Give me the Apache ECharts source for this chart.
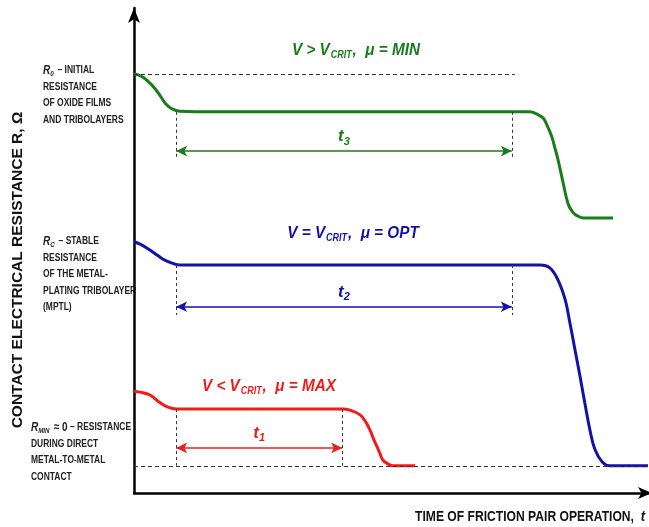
<!DOCTYPE html>
<html><head><meta charset="utf-8">
<script src="https://cdn.jsdelivr.net/npm/echarts@6/dist/echarts.min.js"></script>
<style>html,body{margin:0;padding:0;background:#fff}#c{width:649px;height:527px}</style>
</head><body><div id="c"></div>
<script>
// Time of operation (arbitrary units) and contact resistance (arbitrary units)
const greenT = [0,0.8,1.9,3.1,4.3,5.1,6.2,7.4,8.9,12,40,77.0,78.4,79.6,80.5,81.3,81.9,82.5,83.5,84.4,85.2,86.0,87.4,93.2];
const greenR = [86.4,86.2,85.6,84.5,83.1,81.9,80.2,79.2,78.7,78.6,78.6,78.6,78.1,77.3,75.5,73.4,71.1,68.7,63.9,59.8,58.1,57.3,56.7,56.7];
const blueT = [0,1.2,3.1,4.7,6.0,7.4,8.9,12,45,79.0,80.9,82.5,83.9,84.8,85.8,86.8,87.7,88.7,89.7,91.1,92.6,100];
const blueR = [51.8,51.3,50.1,48.9,48.0,47.4,47.0,47.0,47.0,47.0,46.4,43.9,39.8,35.1,29.5,23.9,18.6,13.0,8.9,6.4,5.6,5.6];
const redT = [0,1.2,3.1,5.1,6.6,8.2,25,40.5,42.0,44.0,45.1,45.9,46.7,47.3,47.9,48.4,49.4,50.4,54.7];
const redR = [21.0,20.8,20.2,18.6,17.7,17.3,17.3,17.3,17.1,16.1,14.6,13.0,10.9,9.5,8.0,6.8,6.0,5.6,5.6];

// reference levels
const R0 = 86.4;      // initial resistance
const RMIN = 5.6;     // metal-to-metal contact
const r0LineEnd = 74.1;
// intervals t3, t2, t1: [start, end]
const t3 = [8.2, 73.5];
const t2 = [8.2, 73.5];
const t1 = [8.2, 40.5];
// plateau levels and arrow levels
const plateau = [78.6, 47.0, 17.3];
const arrowLevel = [70.5, 38.4, 9.3];
const guideBottom = [69.1, 36.7, RMIN];

const xMin = 0, xMax = 100, yMin = 0, yMax = 100;

const GREEN = '#1a7c1a', BLUE = '#1212aa', RED = '#f01c1c', DASH = '#333333';
const SANS = "'Liberation Sans',Arial,sans-serif";

function zip(a, b) { return a.map((v, i) => [v, b[i]]); }

function guides(t, lvl, arr, bottom, color, label) {
  return {
    silent: true,
    animation: false,
    data: [
      [{ coord: [t[0], lvl], symbol: 'none', lineStyle: { color: DASH, type: [3, 3], width: 1 }, label: { show: false } },
       { coord: [t[0], bottom], symbol: 'none' }],
      [{ coord: [t[1], lvl], symbol: 'none', lineStyle: { color: DASH, type: [3, 3], width: 1 }, label: { show: false } },
       { coord: [t[1], bottom], symbol: 'none' }],
      [{ coord: [t[0], arr], symbol: 'arrow', symbolSize: [8, 11], symbolRotate: 90,
         lineStyle: { color: color, type: 'solid', width: 1.5 },
         label: { show: true, position: 'middle', formatter: label, distance: 4,
           rich: {
             t: { fontSize: 17, fontWeight: 'bold', fontStyle: 'italic', fontFamily: SANS, color: color },
             s: { fontSize: 11, fontWeight: 'bold', fontStyle: 'italic', fontFamily: SANS, color: color, verticalAlign: 'bottom', padding: [10, 0, 0, 0] }
           } } },
       { coord: [t[1], arr], symbol: 'arrow', symbolSize: [8, 11] }]
    ]
  };
}

function condLabel(x, y, txt1, txt2, color) {
  return {
    type: 'text', x: x, y: y, silent: true, scaleX: 0.9,
    style: {
      text: '{m|' + txt1 + '}{s|CRIT}{m|' + txt2 + '}',
      align: 'center', verticalAlign: 'middle', textAlign: 'center', textVerticalAlign: 'middle',
      rich: {
        m: { fontSize: 17, fontWeight: 'bold', fontStyle: 'italic', fontFamily: SANS, fill: color, lineHeight: 20 },
        s: { fontSize: 10, fontWeight: 'bold', fontStyle: 'italic', fontFamily: SANS, fill: color, lineHeight: 20, verticalAlign: 'bottom', padding: [0, 1, 0, 1] }
      }
    }
  };
}

const leftRich = {
  b: { fontSize: 11, fontWeight: 'bold', fontFamily: SANS, fill: '#222', lineHeight: 16.5 },
  r: { fontSize: 13, fontWeight: 'bold', fontStyle: 'italic', fontFamily: SANS, fill: '#222', lineHeight: 16.5 },
  rs: { fontSize: 8, fontWeight: 'bold', fontStyle: 'italic', fontFamily: SANS, fill: '#222', lineHeight: 16.5, verticalAlign: 'bottom', padding: [0, 2, 1, 0] },
  n: { fontSize: 13, fontWeight: 'bold', fontFamily: SANS, fill: '#222', lineHeight: 16.5 }
};
function leftLabel(x, y, text) {
  return { type: 'text', x: x, y: y, silent: true, scaleX: 0.77,
    style: { text: text, align: 'left', verticalAlign: 'top', textAlign: 'left', textVerticalAlign: 'top', rich: leftRich } };
}

const chart = echarts.init(document.getElementById('c'), null, { renderer: 'canvas' });
chart.setOption({
  animation: false,
  backgroundColor: '#ffffff',
  grid: { left: 134, right: 1, top: 8, bottom: 34 },
  xAxis: {
    type: 'value', min: xMin, max: xMax,
    axisLine: { show: true, symbol: ['none', 'arrow'], symbolSize: [9, 14], symbolOffset: [0, 4], lineStyle: { color: '#000', width: 2.5 } },
    axisTick: { show: false }, axisLabel: { show: false }, splitLine: { show: false }
  },
  yAxis: {
    type: 'value', min: yMin, max: yMax,
    axisLine: { show: true, symbol: ['none', 'arrow'], symbolSize: [9, 15], symbolOffset: [0, 0], lineStyle: { color: '#000', width: 2.5 } },
    axisTick: { show: false }, axisLabel: { show: false }, splitLine: { show: false }
  },
  series: [
    { name: 'levels', type: 'line', data: [], silent: true,
      markLine: { silent: true, symbol: 'none', label: { show: false }, lineStyle: { color: DASH, type: [4, 3], width: 1 },
        data: [
          [{ coord: [0, R0] }, { coord: [r0LineEnd, R0] }],
          [{ coord: [0, RMIN] }, { coord: [xMax, RMIN] }]
        ] } },
    { name: 'V > Vcrit', type: 'line', data: zip(greenT, greenR), smooth: 0.4, showSymbol: false,
      lineStyle: { color: GREEN, width: 3 }, itemStyle: { color: GREEN },
      markLine: guides(t3, plateau[0], arrowLevel[0], guideBottom[0], GREEN, '{t|t}{s|3}') },
    { name: 'V = Vcrit', type: 'line', data: zip(blueT, blueR), smooth: 0.4, showSymbol: false,
      lineStyle: { color: BLUE, width: 3 }, itemStyle: { color: BLUE },
      markLine: guides(t2, plateau[1], arrowLevel[1], guideBottom[1], BLUE, '{t|t}{s|2}') },
    { name: 'V < Vcrit', type: 'line', data: zip(redT, redR), smooth: 0.4, showSymbol: false,
      lineStyle: { color: RED, width: 3 }, itemStyle: { color: RED },
      markLine: guides(t1, plateau[2], arrowLevel[2], guideBottom[2], RED, '{t|t}{s|1}') }
  ],
  graphic: [
    condLabel(356, 50, 'V > V', ',  μ = MIN', GREEN),
    condLabel(353, 233, 'V = V', ',  μ = OPT', BLUE),
    condLabel(269, 386, 'V < V', ',  μ = MAX', RED),
    leftLabel(43, 62, '{r|R}{rs|0}{b| – INITIAL}\n{b|RESISTANCE}\n{b|OF OXIDE FILMS}\n{b|AND TRIBOLAYERS}'),
    leftLabel(43, 233, '{r|R}{rs|C}{b| – STABLE}\n{b|RESISTANCE}\n{b|OF THE METAL-}\n{b|PLATING TRIBOLAYER}\n{b|(MPTL)}'),
    leftLabel(31, 419, '{r|R}{rs|MIN}{n| ≈ 0}{b| – RESISTANCE}\n{b|DURING DIRECT}\n{b|METAL-TO-METAL}\n{b|CONTACT}'),
    { type: 'text', x: 18, y: 270, rotation: Math.PI / 2, silent: true,
      style: { text: 'CONTACT ELECTRICAL RESISTANCE R, Ω', align: 'center', verticalAlign: 'middle', textAlign: 'center', textVerticalAlign: 'middle',
        font: "bold 15.5px 'Liberation Sans', Arial, sans-serif", fill: '#111' } },
    { type: 'text', x: 645, y: 517, silent: true, scaleX: 0.865,
      style: { text: '{b|TIME OF FRICTION PAIR OPERATION,  }{i|t}', align: 'right', verticalAlign: 'middle', textAlign: 'right', textVerticalAlign: 'middle',
        rich: {
          b: { fontSize: 14, fontWeight: 'bold', fontFamily: SANS, fill: '#111' },
          i: { fontSize: 15, fontWeight: 'bold', fontStyle: 'italic', fontFamily: SANS, fill: '#111' }
        } } }
  ]
});
</script></body></html>
